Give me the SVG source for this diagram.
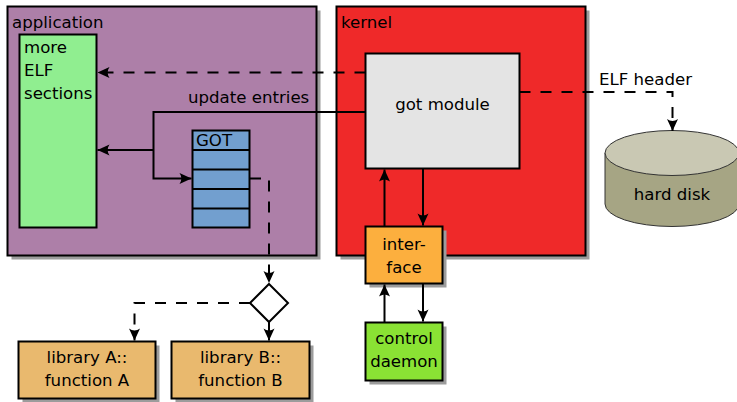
<svg xmlns="http://www.w3.org/2000/svg" width="737" height="402" viewBox="0 0 737 402">
  <style>
    text { font-family: "DejaVu Sans", "Liberation Sans", sans-serif; font-size: 16.6px; fill: #000; }
    .mid { text-anchor: middle; }
    .box { stroke: #000; stroke-width: 2; }
    .shadow { fill: #9c9c9c; }
    .line { fill: none; stroke: #000; stroke-width: 2; }
    .dash { stroke-dasharray: 11 10; }
    .arrow { marker-end: url(#head); }
  </style>
  <defs>
    <marker id="head" markerUnits="userSpaceOnUse" viewBox="-13 -7 14 14" markerWidth="14" markerHeight="14" refX="0" refY="0" orient="auto">
      <path d="M0,0 L-12,-5.5 C-9.5,-2 -9.5,2 -12,5.5 Z" fill="#000"/>
    </marker>
  </defs>

  <!-- application container -->
  <g id="application">
    <rect class="shadow" x="11.5" y="10.5" width="309" height="249"/>
    <rect class="box" x="7.5" y="6.5" width="309" height="249" fill="#ad7fa8"/>
    <text x="12" y="27.5">application</text>
  </g>

  <!-- kernel container -->
  <g id="kernel">
    <rect class="shadow" x="340.5" y="10.5" width="249" height="249"/>
    <rect class="box" x="336.5" y="6.5" width="249" height="249" fill="#ef2929"/>
    <text x="341" y="27.5">kernel</text>
  </g>

  <g id="elf-sections">
    <rect class="box" x="19.5" y="34.5" width="77" height="193" fill="#90ee90"/>
    <text x="24" y="52.5">more</text>
    <text x="24" y="75.5">ELF</text>
    <text x="24" y="98.5">sections</text>
  </g>

  <g id="got">
    <rect class="box" x="192.5" y="130.5" width="57" height="97" fill="#729fcf"/>
    <path class="line" d="M192.5,150 H249.5 M192.5,169.5 H249.5 M192.5,189 H249.5 M192.5,208.5 H249.5"/>
    <text x="196" y="146">GOT</text>
  </g>

  <g id="got-module">
    <rect class="box" x="365.5" y="53.5" width="154" height="115" fill="#e4e4e4"/>
    <text class="mid" x="442.5" y="110">got module</text>
  </g>

  <g id="interface">
    <rect class="shadow" x="369.5" y="230.5" width="77" height="57"/>
    <rect class="box" x="365.5" y="226.5" width="77" height="57" fill="#fcaf3e"/>
    <text class="mid" x="404" y="250">inter-</text>
    <text class="mid" x="404" y="272.5">face</text>
  </g>

  <g id="control-daemon">
    <rect class="shadow" x="369.5" y="326.5" width="77" height="58"/>
    <rect class="box" x="365.5" y="322.5" width="77" height="58" fill="#8ae234"/>
    <text class="mid" x="404" y="344">control</text>
    <text class="mid" x="404" y="366.5">daemon</text>
  </g>

  <g id="hard-disk">
    <path d="M605,153 V204 A67,22.5 0 0 0 739,204 V153 Z" fill="#a6a584" stroke="#333" stroke-width="1"/>
    <ellipse cx="672" cy="153" rx="67" ry="22.5" fill="#c9c8b3" stroke="#333" stroke-width="1"/>
    <text class="mid" x="672" y="200">hard disk</text>
  </g>

  <g id="decision">
    <polygon class="box" points="269,284 288,303 269,322 250,303" fill="#fff"/>
  </g>

  <g id="library-a">
    <rect class="shadow" x="22.5" y="345.5" width="137" height="57"/>
    <rect class="box" x="18.5" y="341.5" width="137" height="57" fill="#e9b96e"/>
    <text class="mid" x="87" y="363">library A::</text>
    <text class="mid" x="87" y="386">function A</text>
  </g>

  <g id="library-b">
    <rect class="shadow" x="175.5" y="345.5" width="138" height="57"/>
    <rect class="box" x="171.5" y="341.5" width="138" height="57" fill="#e9b96e"/>
    <text class="mid" x="240.5" y="363">library B::</text>
    <text class="mid" x="240.5" y="386">function B</text>
  </g>

  <!-- connectors -->
  <g id="connectors">
    <path class="line dash arrow" d="M365.5,72.5 H97.5"/>
    <path class="line arrow" d="M365.5,112 H153.5 V178.5 H191.5"/>
    <path class="line arrow" d="M153.5,150 H97.5"/>
    <path class="line dash arrow" d="M250,178.5 H269 V283"/>
    <path class="line arrow" d="M269,322 V340.5"/>
    <path class="line dash arrow" d="M250,303 H134.5 V340.5"/>
    <path class="line arrow" d="M423,169 V225.5"/>
    <path class="line arrow" d="M384.5,226.5 V169.5"/>
    <path class="line arrow" d="M384.5,322.5 V284.5"/>
    <path class="line arrow" d="M423,284 V321.5"/>
    <path class="line dash arrow" d="M519.5,92 H672.5 V131"/>
    <text x="188" y="103">update entries</text>
    <text x="599" y="85">ELF header</text>
  </g>
</svg>
